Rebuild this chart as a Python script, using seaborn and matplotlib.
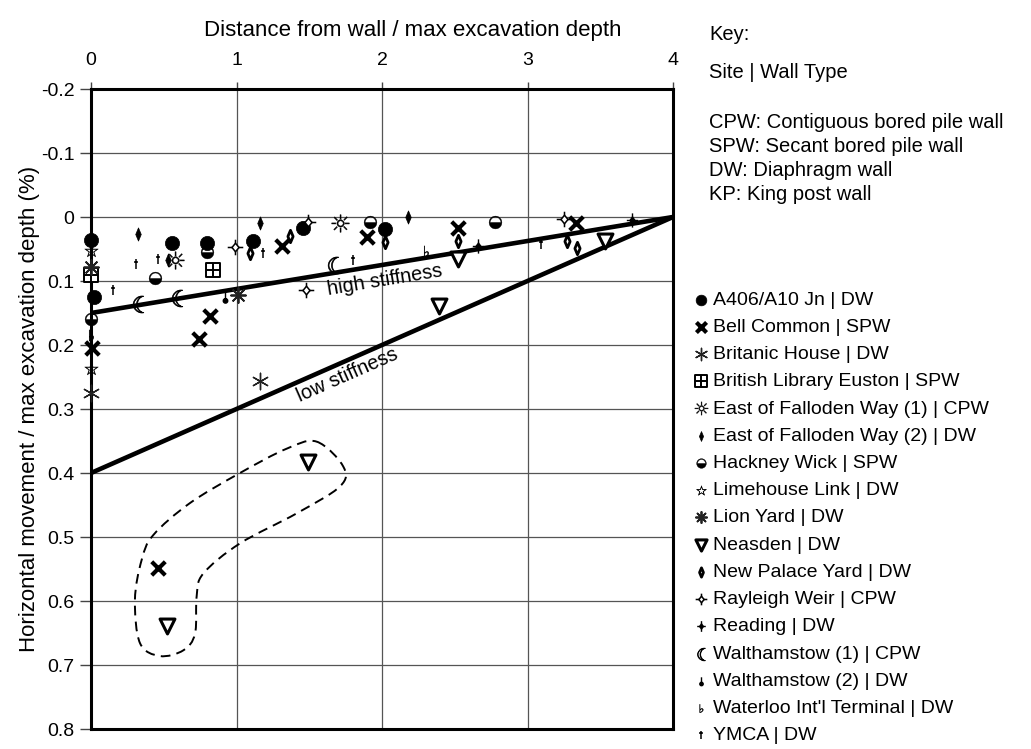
import numpy as np
import matplotlib
matplotlib.use("Agg")
import matplotlib.pyplot as plt
from matplotlib.path import Path
from matplotlib.patches import PathPatch
import seaborn as sns

# ---------------- data ----------------
a406_x = [0.0, 0.02, 0.56, 0.80, 1.11, 1.46, 2.02]
a406_y = [0.036, 0.125, 0.040, 0.040, 0.037, 0.017, 0.019]
bell_x = [0.01, 0.74, 0.82, 1.31, 1.90, 2.52, 3.33, 0.46]
bell_y = [0.205, 0.190, 0.155, 0.045, 0.031, 0.017, 0.009, 0.548]
britanic_x = [0.0, 1.16]
britanic_y = [0.275, 0.256]
bl_x = [0.0, 0.84]
bl_y = [0.090, 0.083]
efw1_x = [0.58, 1.71]
efw1_y = [0.067, 0.010]
efw2_x = [0.32, 0.53, 1.16, 2.18]
efw2_y = [0.027, 0.067, 0.009, 0.000]
hackney_x = [0.0, 0.44, 0.80, 1.92, 2.78]
hackney_y = [0.160, 0.095, 0.055, 0.008, 0.008]
limehouse_x = [0.0, 0.0]
limehouse_y = [0.052, 0.236]
lion_x = [0.0, 1.01]
lion_y = [0.078, 0.122]
neasden_x = [2.52, 2.39, 3.53, 1.49, 0.52]
neasden_y = [0.066, 0.139, 0.038, 0.383, 0.639]
npy_x = [1.09, 1.37, 2.02, 2.52, 3.27, 3.34]
npy_y = [0.056, 0.030, 0.039, 0.038, 0.038, 0.048]
rayleigh_x = [0.99, 1.48, 1.49, 3.25]
rayleigh_y = [0.047, 0.114, 0.008, 0.003]
reading_x = [2.66, 3.72]
reading_y = [0.045, 0.005]
walth1_x = [0.32, 0.59, 1.66]
walth1_y = [0.136, 0.126, 0.075]
walth2_x = [0.92]
walth2_y = [0.125]
waterloo_x = [0.0, 2.30]
waterloo_y = [0.184, 0.053]
ymca_x = [0.15, 0.31, 0.46, 1.18, 1.80, 3.09]
ymca_y = [0.114, 0.073, 0.066, 0.057, 0.067, 0.042]

site_labels = ["A406/A10 Jn | DW", "Bell Common | SPW", "Britanic House | DW",
               "British Library Euston | SPW", "East of Falloden Way (1) | CPW",
               "East of Falloden Way (2) | DW", "Hackney Wick | SPW",
               "Limehouse Link | DW", "Lion Yard | DW", "Neasden | DW",
               "New Palace Yard | DW", "Rayleigh Weir | CPW", "Reading | DW",
               "Walthamstow (1) | CPW", "Walthamstow (2) | DW",
               "Waterloo Int'l Terminal | DW", "YMCA | DW"]

# envelope lines: movement at wall (x=0) and zero at x=4
high_line_x = [0.0, 4.0]
high_line_y = [0.15, 0.0]
low_line_x = [0.0, 4.0]
low_line_y = [0.40, 0.0]

# hand-drawn dashed outline (knots)
outline_x = [1.551, 1.734, 1.711, 1.414, 1.024, 0.772, 0.726, 0.715, 0.635,
             0.474, 0.337, 0.302, 0.348, 0.428, 0.680, 1.024, 1.345]
outline_y = [0.351, 0.390, 0.421, 0.463, 0.510, 0.557, 0.593, 0.651, 0.677,
             0.686, 0.666, 0.598, 0.536, 0.497, 0.447, 0.400, 0.362]

x_ticks = [0, 1, 2, 3, 4]
x_ticklabels = ["0", "1", "2", "3", "4"]
y_ticks = [-0.2, -0.1, 0.0, 0.1, 0.2, 0.3, 0.4, 0.5, 0.6, 0.7, 0.8]
y_ticklabels = ["-0.2", "-0.1", "0", "0.1", "0.2", "0.3", "0.4", "0.5",
                "0.6", "0.7", "0.8"]

key_lines = ["Key:", "Site | Wall Type", "CPW: Contiguous bored pile wall",
             "SPW: Secant bored pile wall", "DW: Diaphragm wall",
             "KP: King post wall"]

# ---------------- style ----------------
sns.set_theme(style="white")
plt.rcParams["font.family"] = ["Liberation Sans", "DejaVu Sans"]
plt.rcParams["mathtext.fontset"] = "dejavusans"
for k in ["text.color", "axes.labelcolor", "xtick.color", "ytick.color"]:
    plt.rcParams[k] = "black"

M, L, C = Path.MOVETO, Path.LINETO, Path.CLOSEPOLY

def square_plus():
    v = [(-1, -1), (1, -1), (1, 1), (-1, 1), (-1, -1),
         (0, -1), (0, 1), (-1, 0), (1, 0)]
    c = [M, L, L, L, C, M, L, M, L]
    return Path(v, c)

def rayleigh():
    v = [(0, 0.55), (0.45, 0), (0, -0.55), (-0.45, 0), (0, 0.55),
         (0, 0.55), (0, 1), (0, -0.55), (0, -1),
         (0.45, 0), (1, 0), (-0.45, 0), (-1, 0)]
    c = [M, L, L, L, C, M, L, M, L, M, L, M, L]
    return Path(v, c)

def reading():
    v = [(0, 0.5), (0.35, 0), (0, -0.5), (-0.35, 0), (0, 0.5),
         (0, 0.5), (0, 1), (0, -0.5), (0, -1),
         (0.35, 0), (0.8, 0), (-0.35, 0), (-0.8, 0)]
    c = [M, L, L, L, C, M, L, M, L, M, L, M, L]
    return Path(v, c)

def stem_dot():
    line = Path([(0, 1), (0, -0.3)], [M, L])
    circ = Path.circle((0, -0.6), 0.4)
    return Path.make_compound_path(line, circ)

def dagger():
    v = [(0, 1), (0, -1), (-0.45, 0.4), (0.45, 0.4)]
    c = [M, L, M, L]
    return Path(v, c)

def thin_diamond():
    v = [(0, 1), (0.42, 0), (0, -1), (-0.42, 0), (0, 1)]
    return Path(v, [M, L, L, L, C])

fig = plt.figure(figsize=(10.31, 7.49), dpi=100)
W, H = 1031, 749
ax = fig.add_axes([91 / W, 20 / H, 582 / W, 640 / H])

ax.set_xlim(0, 4)
ax.set_ylim(0.8, -0.2)

series = [
    (a406_x, a406_y, dict(marker="o", s=105, color="black", edgecolor="black", linewidth=0.5)),
    (bell_x, bell_y, dict(marker="x", s=95, color="black", linewidth=3.0)),
    (britanic_x, britanic_y, dict(marker=(6, 2, 0), s=140, color="#222222", linewidth=1.0)),
    (bl_x, bl_y, dict(marker=square_plus(), s=115, color="white", edgecolor="black", linewidth=1.4)),
    (efw1_x, efw1_y, dict(marker="$\u263c$", s=160, color="black", edgecolor="black", linewidth=0.3)),
    (efw2_x, efw2_y, dict(marker=thin_diamond(), s=90, color="black", edgecolor="black", linewidth=0.5)),
    (hackney_x, hackney_y, dict(marker="$\u25d2$", s=85, color="black", edgecolor="black", linewidth=0.3)),
    (limehouse_x, limehouse_y, dict(marker="$\u2606$", s=95, color="black", edgecolor="black", linewidth=0.3)),
    (lion_x, lion_y, dict(marker=(8, 2, 0), s=115, color="#222222", linewidth=1.3)),
    (neasden_x, neasden_y, dict(marker="v", s=115, color="white", edgecolor="black", linewidth=2.2)),
    (npy_x, npy_y, dict(marker=thin_diamond(), s=80, color="white", edgecolor="black", linewidth=2.0)),
    (rayleigh_x, rayleigh_y, dict(marker=rayleigh(), s=125, color="white", edgecolor="black", linewidth=1.1)),
    (reading_x, reading_y, dict(marker=reading(), s=105, color="black", edgecolor="black", linewidth=1.0)),
    (walth1_x, walth1_y, dict(marker="$\u263e$", s=150, color="black", edgecolor="black", linewidth=0.5)),
    (walth2_x, walth2_y, dict(marker=stem_dot(), s=65, color="black", edgecolor="black", linewidth=1.0)),
    (waterloo_x, waterloo_y, dict(marker="$\u266d$", s=65, color="black", edgecolor="black", linewidth=0.3)),
    (ymca_x, ymca_y, dict(marker=dagger(), s=60, color="black", edgecolor="black", linewidth=1.1)),
]

for (xs, ys, kw), lab in zip(series, site_labels):
    sns.scatterplot(x=xs, y=ys, ax=ax, label=lab, legend=False, zorder=4,
                    clip_on=False, **kw)

# envelope lines
sns.lineplot(x=high_line_x, y=high_line_y, ax=ax, color="black", linewidth=3.3,
             zorder=3, legend=False, sort=False)
sns.lineplot(x=low_line_x, y=low_line_y, ax=ax, color="black", linewidth=3.3,
             zorder=3, legend=False, sort=False)

def screen_angle(xs, ys):
    p = ax.transData.transform(np.column_stack([xs, ys]))
    return np.degrees(np.arctan2(p[1, 1] - p[0, 1], p[1, 0] - p[0, 0]))

ax.text(2.02, 0.099, "high stiffness", rotation=screen_angle(high_line_x, high_line_y),
        rotation_mode="anchor", ha="center", va="center", fontsize=14.3, zorder=5)
ax.text(1.76, 0.247, "low stiffness", rotation=screen_angle(low_line_x, low_line_y),
        rotation_mode="anchor", ha="center", va="center", fontsize=14.3, zorder=5)

# dashed outline as closed smooth curve (Catmull-Rom -> cubic Bezier)
P = np.column_stack([outline_x, outline_y])
n = len(P)
verts = [P[0]]
codes = [Path.MOVETO]
for i in range(n):
    p0, p1, p2, p3 = P[i - 1], P[i], P[(i + 1) % n], P[(i + 2) % n]
    c1 = p1 + (p2 - p0) / 6.0
    c2 = p2 - (p3 - p1) / 6.0
    verts += [c1, c2, p2]
    codes += [Path.CURVE4] * 3
ax.add_patch(PathPatch(Path(verts, codes), fill=False, edgecolor="black",
                       linewidth=1.4, linestyle=(0, (5, 3.2)), zorder=3))

# axes styling
ax.xaxis.tick_top()
ax.xaxis.set_label_position("top")
ax.set_xticks(x_ticks)
ax.set_xticklabels(x_ticklabels, fontsize=14)
ax.set_yticks(y_ticks)
ax.set_yticklabels(y_ticklabels, fontsize=14)
ax.tick_params(axis="x", which="both", top=True, bottom=False, direction="out",
               length=5, width=1, color="#444444", pad=9.5)
ax.tick_params(axis="y", which="both", left=True, direction="out",
               length=8, width=1, color="#444444", pad=4)
ax.grid(True, color="#555555", linewidth=0.9, zorder=1)
ax.set_axisbelow(True)
for sp in ax.spines.values():
    sp.set_linewidth(2.2)
    sp.set_color("black")
ax.set_xlabel("Distance from wall / max excavation depth", fontsize=16)
ax.xaxis.set_label_coords(0.552, 1.083)
ax.set_ylabel("Horizontal movement / max excavation depth (%)", fontsize=16)
ax.yaxis.set_label_coords(-0.088, 0.5)

# key text
key_y = [35, 72, 122, 146, 170, 195]
for t, yy in zip(key_lines, key_y):
    fig.text(709 / W, 1 - yy / H, t, fontsize=14.5, ha="left", va="center")

handles, labels = ax.get_legend_handles_labels()
leg = fig.legend(handles, labels, loc="upper left",
                 bbox_to_anchor=(691 / W, 1 - 291 / H), frameon=False,
                 fontsize=14, handletextpad=0.15, labelspacing=0.495,
                 handlelength=1.0, borderpad=0, borderaxespad=0, markerscale=0.75)

fig.savefig("out.png", dpi=100)
